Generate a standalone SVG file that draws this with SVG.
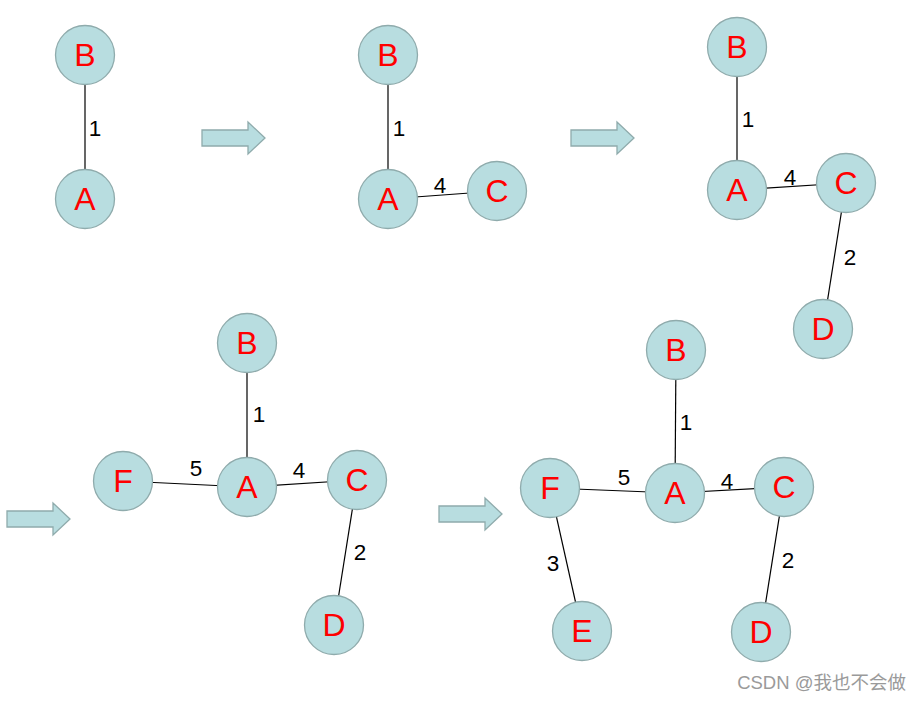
<svg xmlns="http://www.w3.org/2000/svg" width="922" height="701" viewBox="0 0 922 701">
<defs>
<style>
.n circle{fill:#b8dde0;stroke:#8fabac;stroke-width:1.3}
.n text{font-family:"Liberation Sans",Arial,sans-serif;font-size:32px;fill:#ff0000;text-anchor:middle}
.e line{stroke:#000;stroke-width:1.2}
.l{font-family:"Liberation Sans",Arial,sans-serif;font-size:22.5px;fill:#000;text-anchor:middle}
.ar{fill:#b8dde0;stroke:#8fabac;stroke-width:1.3}
</style>
<path id="arrow" d="M0,-8 L46,-8 L46,-16 L63,0 L46,16 L46,8 L0,8 Z"/>
</defs>
<rect width="922" height="701" fill="#fff"/>
<g id="connectors" class="e">
<line x1="85" y1="55" x2="85" y2="199"/>
<line x1="388" y1="55" x2="388" y2="199"/>
<line x1="388" y1="199" x2="497" y2="191"/>
<line x1="737" y1="47" x2="737" y2="190"/>
<line x1="737" y1="190" x2="846" y2="183"/>
<line x1="846" y1="183" x2="823" y2="329"/>
<line x1="247" y1="343" x2="247" y2="487"/>
<line x1="123" y1="481" x2="247" y2="487"/>
<line x1="247" y1="487" x2="357" y2="480"/>
<line x1="357" y1="480" x2="334" y2="625"/>
<line x1="676" y1="350" x2="675" y2="493"/>
<line x1="550" y1="488" x2="675" y2="493"/>
<line x1="675" y1="493" x2="784" y2="487"/>
<line x1="784" y1="487" x2="761" y2="632"/>
<line x1="550" y1="488" x2="582" y2="631"/>
</g>
<g id="labels" class="l">
<text x="95" y="136">1</text>
<text x="399" y="136">1</text>
<text x="440" y="193">4</text>
<text x="748" y="127">1</text>
<text x="790" y="185">4</text>
<text x="850" y="265">2</text>
<text x="259" y="422">1</text>
<text x="196" y="476">5</text>
<text x="299" y="478">4</text>
<text x="360" y="560">2</text>
<text x="686" y="430">1</text>
<text x="624" y="485">5</text>
<text x="727" y="489">4</text>
<text x="553" y="571">3</text>
<text x="788" y="568">2</text>
</g>
<g id="arrows">
<use href="#arrow" class="ar" x="202" y="138"/>
<use href="#arrow" class="ar" x="571" y="138"/>
<use href="#arrow" class="ar" x="7" y="519"/>
<use href="#arrow" class="ar" x="439" y="514"/>
</g>
<g id="d1-B" class="n"><circle cx="85" cy="55" r="29.5"/><text x="85" y="66">B</text></g>
<g id="d1-A" class="n"><circle cx="85" cy="199" r="29.5"/><text x="85" y="210">A</text></g>
<g id="d2-B" class="n"><circle cx="388" cy="55" r="29.5"/><text x="388" y="66">B</text></g>
<g id="d2-A" class="n"><circle cx="388" cy="199" r="29.5"/><text x="388" y="210">A</text></g>
<g id="d2-C" class="n"><circle cx="497" cy="191" r="29.5"/><text x="497" y="202">C</text></g>
<g id="d3-B" class="n"><circle cx="737" cy="47" r="29.5"/><text x="737" y="58">B</text></g>
<g id="d3-A" class="n"><circle cx="737" cy="190" r="29.5"/><text x="737" y="201">A</text></g>
<g id="d3-C" class="n"><circle cx="846" cy="183" r="29.5"/><text x="846" y="194">C</text></g>
<g id="d3-D" class="n"><circle cx="823" cy="329" r="29.5"/><text x="823" y="340">D</text></g>
<g id="d4-B" class="n"><circle cx="247" cy="343" r="29.5"/><text x="247" y="354">B</text></g>
<g id="d4-F" class="n"><circle cx="123" cy="481" r="29.5"/><text x="123" y="492">F</text></g>
<g id="d4-A" class="n"><circle cx="247" cy="487" r="29.5"/><text x="247" y="498">A</text></g>
<g id="d4-C" class="n"><circle cx="357" cy="480" r="29.5"/><text x="357" y="491">C</text></g>
<g id="d4-D" class="n"><circle cx="334" cy="625" r="29.5"/><text x="334" y="636">D</text></g>
<g id="d5-B" class="n"><circle cx="676" cy="350" r="29.5"/><text x="676" y="361">B</text></g>
<g id="d5-F" class="n"><circle cx="550" cy="488" r="29.5"/><text x="550" y="499">F</text></g>
<g id="d5-A" class="n"><circle cx="675" cy="493" r="29.5"/><text x="675" y="504">A</text></g>
<g id="d5-C" class="n"><circle cx="784" cy="487" r="29.5"/><text x="784" y="498">C</text></g>
<g id="d5-D" class="n"><circle cx="761" cy="632" r="29.5"/><text x="761" y="643">D</text></g>
<g id="d5-E" class="n"><circle cx="582" cy="631" r="29.5"/><text x="582" y="642">E</text></g>
<text x="906" y="689" text-anchor="end" font-family="'Liberation Sans','Noto Sans CJK SC',sans-serif" font-size="18.5" fill="#9a9a9a">CSDN @我也不会做</text>
</svg>
